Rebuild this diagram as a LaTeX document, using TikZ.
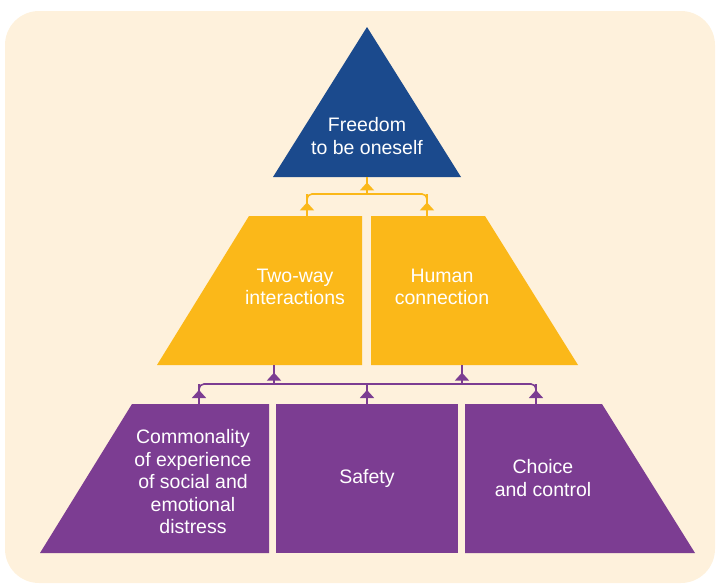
\documentclass[tikz,border=0pt]{standalone}
\usepackage{fontspec}
\setmainfont{Liberation Sans}
\usetikzlibrary{arrows.meta,decorations.markings}

\definecolor{paper}{RGB}{254,241,220}
\definecolor{topblue}{RGB}{27,74,141}
\definecolor{midgold}{RGB}{251,184,25}
\definecolor{basepurple}{RGB}{124,61,146}

\tikzset{
  blocktext/.style={text=white, align=center, inner sep=0pt,
    font=\fontsize{19.5}{22.5}\selectfont},
  link/.style={line width=1.6pt, rounded corners=5pt},
  tipat/.style={postaction={decorate}, decoration={markings,
    mark=at position #1 with {\arrow{Triangle[width=14pt,length=8pt]}}}},
}

\begin{document}
\begin{tikzpicture}[x=1pt,y=-1pt]
\useasboundingbox (0,0) rectangle (716,584);
\fill[paper, rounded corners=34pt] (5,11) rectangle (715,583);

% pyramid blocks
\fill[topblue] (367,27) -- (461,177) -- (273,177) -- cycle;
\fill[midgold] (249,216) -- (362,216) -- (362,365) -- (157,365) -- cycle;
\fill[midgold] (371,216) -- (485,216) -- (578,365) -- (371,365) -- cycle;
\fill[basepurple] (132,404) -- (269,404) -- (269,553) -- (40,553) -- cycle;
\fill[basepurple] (276,404) -- (458,404) -- (458,553) -- (276,553) -- cycle;
\fill[basepurple] (465,404) -- (602,404) -- (695,553) -- (465,553) -- cycle;

\node[blocktext] (freedom) at (367,136) {Freedom\\to be oneself};
\node[blocktext] (twoway) at (295,287) {Two-way\\interactions};
\node[blocktext] (human) at (442,287) {Human\\connection};
\node[blocktext] (common) at (193,482) {Commonality\\of experience\\of social and\\emotional\\distress};
\node[blocktext] (safety) at (367,478) {Safety};
\node[blocktext] (choice) at (543,478) {Choice\\and control};

% joints on the block edges
\coordinate (freedom-foot) at (367,177);
\coordinate (gold-bar) at (367,194);
\coordinate (twoway-top) at (307,216);
\coordinate (human-top) at (427,216);
\coordinate (twoway-foot) at (274,365);
\coordinate (human-foot) at (462,365);
\coordinate (purple-bar) at (367,384);
\coordinate (common-top) at (199,404);
\coordinate (safety-top) at (367,404);
\coordinate (choice-top) at (536,404);

% gold links
\begin{scope}[midgold]
  \draw[link] (twoway-top) |- (gold-bar) -| (human-top);
  \draw[link, tipat=0.62] (twoway-top) -- (twoway-top |- gold-bar);
  \draw[link, tipat=0.62] (human-top) -- (human-top |- gold-bar);
  \draw[link, tipat=0.68] (gold-bar) -- (freedom-foot);
\end{scope}

% purple links
\begin{scope}[basepurple]
  \draw[link] (common-top) |- (purple-bar) -| (choice-top);
  \draw[link, tipat=0.7] (common-top) -- (common-top |- purple-bar);
  \draw[link, tipat=0.7] (safety-top) -- (purple-bar);
  \draw[link, tipat=0.7] (choice-top) -- (choice-top |- purple-bar);
  \draw[link, tipat=0.6] (purple-bar -| twoway-foot) -- (twoway-foot);
  \draw[link, tipat=0.6] (purple-bar -| human-foot) -- (human-foot);
\end{scope}
\end{tikzpicture}
\end{document}
